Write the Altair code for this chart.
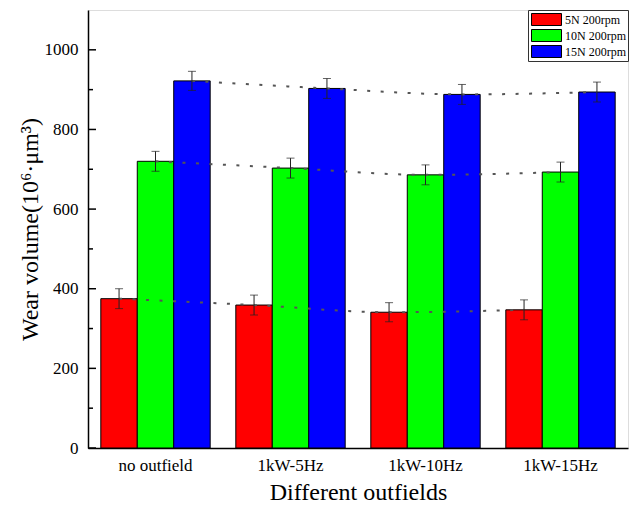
import altair as alt
import pandas as pd

groups = ["no outfield", "1kW-5Hz", "1kW-10Hz", "1kW-15Hz"]
series = ["5N 200rpm", "10N 200rpm", "15N 200rpm"]
colors = ["#FF0000", "#00FF00", "#0000FF"]

vals_5n = [375, 359, 341, 347]
vals_10n = [720, 703, 686, 693]
vals_15n = [922, 903, 888, 894]
err_5n = [25, 25, 24, 25]
err_10n = [25, 25, 25, 25]
err_15n = [24, 25, 25, 25]

major_ticks = [0, 200, 400, 600, 800, 1000]
minor_ticks = [100, 300, 500, 700, 900]

rows = []
for s, vals, errs in zip(series, [vals_5n, vals_10n, vals_15n], [err_5n, err_10n, err_15n]):
    for g, v, e in zip(groups, vals, errs):
        rows.append({"group": g, "series": s, "value": v, "lo": v - e, "hi": v + e})
df = pd.DataFrame(rows)

FONT = "Liberation Serif"

x = alt.X("group:N", sort=groups,
          scale=alt.Scale(paddingInner=0.19, paddingOuter=0.095),
          axis=alt.Axis(title="Different outfields", ticks=False, labelAngle=0,
                        labelFont=FONT, labelFontSize=17, labelColor="black",
                        labelPadding=9, titleFont=FONT, titleFontSize=24,
                        titleFontWeight="normal", titleColor="black", titlePadding=7,
                        domainColor="black", domainWidth=1.5))
xo = alt.XOffset("series:N", sort=series, scale=alt.Scale(paddingInner=0, paddingOuter=0))
yscale = alt.Scale(domain=[0, 1100], nice=False)
y = alt.Y("value:Q", scale=yscale,
          axis=alt.Axis(title="Wear volume(10⁶·μm³)", values=major_ticks, ticks=False,
                        format="d", grid=False, labelFont=FONT, labelFontSize=17,
                        labelColor="black", labelPadding=10, titleFont=FONT, titleFontSize=24,
                        titleFontWeight="normal", titleColor="black", titlePadding=2,
                        domainColor="black", domainWidth=1.5))

base = alt.Chart(df)

bars = base.mark_bar(stroke="black", strokeWidth=1).encode(
    x=x, xOffset=xo, y=y,
    color=alt.Color("series:N", sort=series,
                    scale=alt.Scale(domain=series, range=colors),
                    legend=alt.Legend(title=None, orient="top-right", offset=0,
                                      strokeColor="#333", fillColor="white", padding=2,
                                      symbolType="M-2.5,-1H2.5V1H-2.5Z", symbolSize=144,
                                      symbolStrokeColor="black", symbolStrokeWidth=1,
                                      symbolOpacity=1, symbolOffset=10, labelOffset=12,
                                      labelFont=FONT, labelFontSize=12, labelColor="black",
                                      clipHeight=15, rowPadding=1))
)

lines = base.mark_line(color="#555555", strokeWidth=2, strokeDash=[3, 10.5],
                       interpolate="monotone").encode(
    x=x, xOffset=xo, y="value:Q", detail="series:N"
)

rules = base.mark_rule(color="#222222", strokeWidth=1).encode(
    x=x, xOffset=xo, y="lo:Q", y2="hi:Q"
)
cap_lo = base.mark_tick(color="#222222", size=8, thickness=1).encode(
    x=x, xOffset=xo, y="lo:Q"
)
cap_hi = base.mark_tick(color="#222222", size=8, thickness=1).encode(
    x=x, xOffset=xo, y="hi:Q"
)

maj = alt.Chart(pd.DataFrame({"t": major_ticks})).mark_rule(color="black", strokeWidth=1.5).encode(
    y=alt.Y("t:Q", scale=yscale), x=alt.value(0), x2=alt.value(8)
)
mnr = alt.Chart(pd.DataFrame({"t": minor_ticks})).mark_rule(color="black", strokeWidth=1.5).encode(
    y=alt.Y("t:Q", scale=yscale), x=alt.value(0), x2=alt.value(5)
)

chart = alt.layer(bars, lines, rules, cap_lo, cap_hi, maj, mnr).properties(
    width=540, height=438,
    autosize=alt.AutoSizeParams(type="none"),
    padding={"left": 80, "top": 2, "right": 2, "bottom": 60},
).configure_view(stroke="black", strokeWidth=1.5).configure(background="white")

chart.save("out.html", embed_options={"renderer": "svg", "actions": False})
